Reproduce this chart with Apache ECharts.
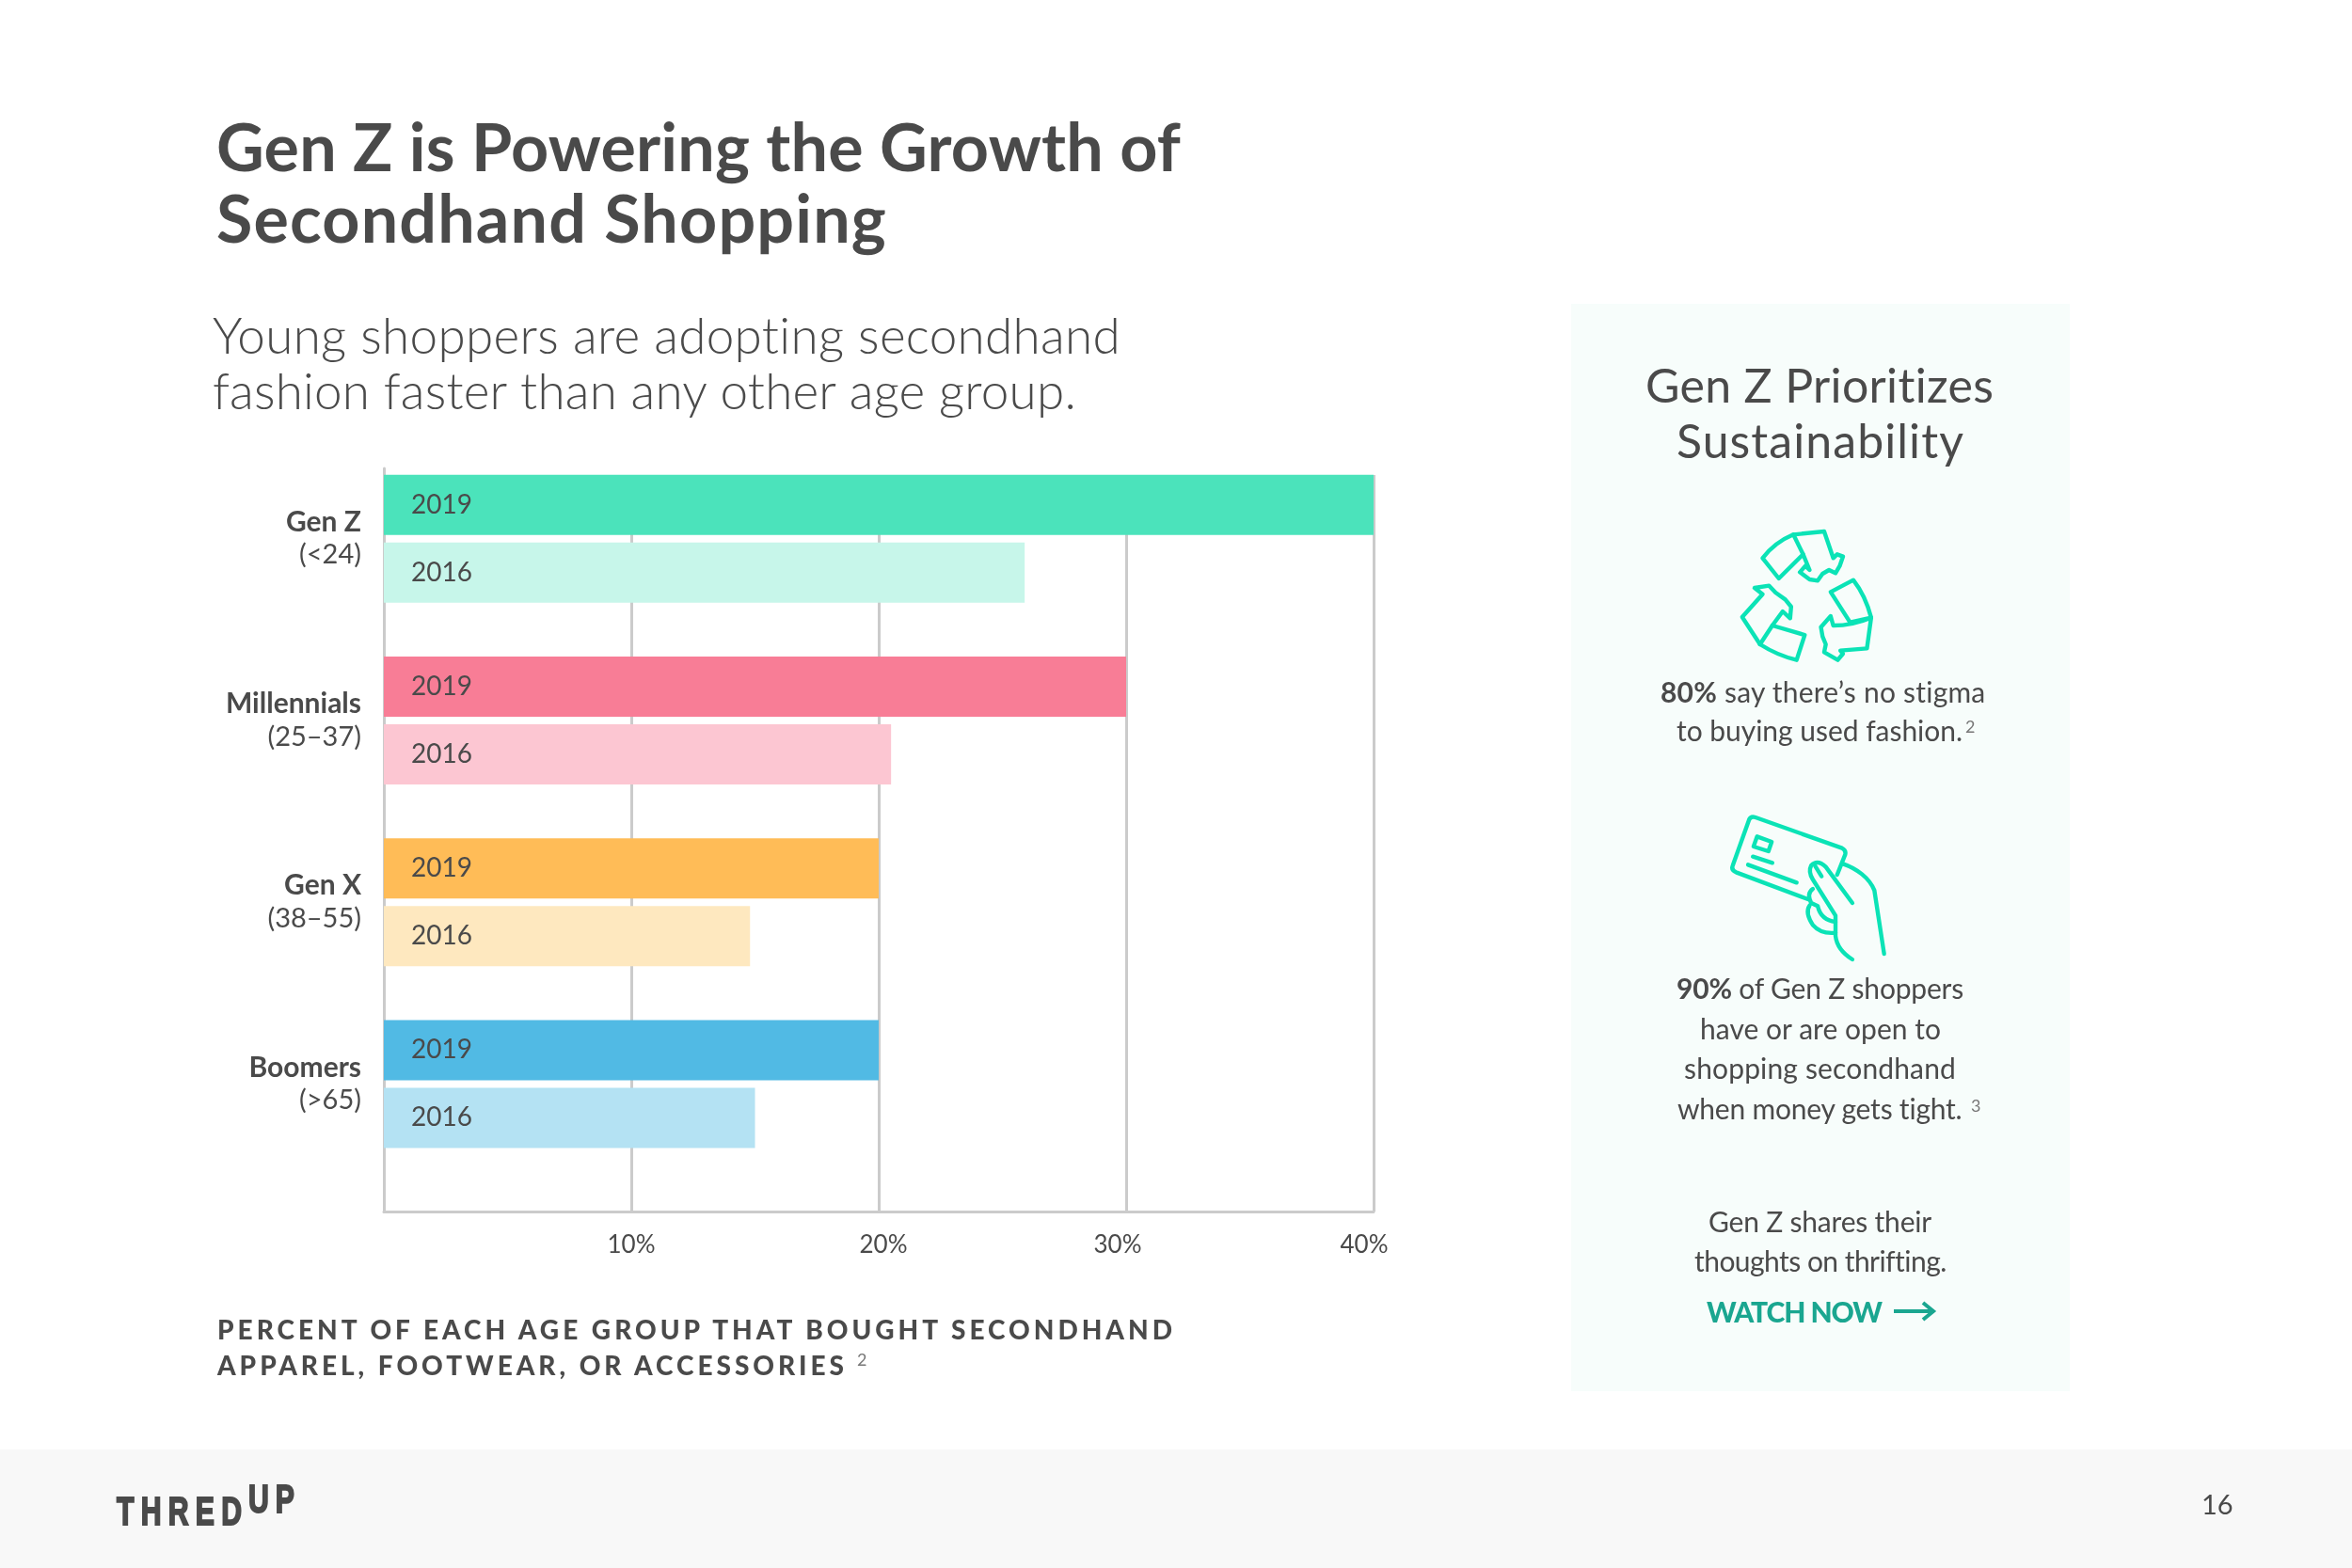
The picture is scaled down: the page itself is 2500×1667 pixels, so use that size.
<!DOCTYPE html>
<html><head><meta charset="utf-8">
<script src="https://cdn.jsdelivr.net/npm/echarts@6/dist/echarts.min.js"></script>
<style>
html,body{margin:0;padding:0;background:#fff;}
#page{position:relative;width:2500px;height:1667px;overflow:hidden;background:#fff;font-family:Lato,sans-serif;color:#4a4a4a;}
#panel{position:absolute;left:1670px;top:323px;width:530px;height:1156px;background:#f7fdfb;}
#footer{position:absolute;left:0;top:1541px;width:2500px;height:126px;background:#f8f8f8;}
#chart{position:absolute;left:0;top:0;width:2500px;height:1667px;}
.ln{position:absolute;white-space:nowrap;line-height:1;transform:translateY(-50%);}
b{font-weight:700;}
#icons{position:absolute;left:1660px;top:530px;width:540px;height:500px;}
#icons path{fill:none;stroke:#0be3b6;stroke-width:4.4;stroke-linejoin:round;stroke-linecap:round;vector-effect:non-scaling-stroke;}
#arrow{position:absolute;left:2010px;top:1380px;}
</style></head>
<body><div id="page">
<div id="panel"></div><div id="footer"></div>
<div id="chart"></div>
<svg id="icons" viewBox="0 0 1568 1500" preserveAspectRatio="none">
<path d="M620,190 C650,150 680,130 715,115 L745,178 L670,255 Z"/>
<path d="M715,115 L810,105 L838,190 L850,178 L868,185 L858,215 L845,238 L825,228 L805,240 L790,262 L765,258 L735,235 L752,215 L765,228 L745,178"/>
<path d="M830,298 L900,260 C930,300 945,340 955,380 L890,395 Z"/>
<path d="M955,380 L942,478 L860,485 L868,495 L852,515 L810,490 L815,465 L805,440 L800,410 L830,375 L838,405 C880,405 920,395 955,380"/>
<path d="M650,405 L750,435 L725,515 C685,505 650,490 612,465 Z"/>
<path d="M612,465 L557,378 L620,305 L595,285 L640,278 L660,300 L690,322 L708,345 L705,382 L682,360 L650,405"/>
<path d="M850,1200 L875,1135 Q878,1122 865,1115 L598,1017 Q583,1012 578,1025 L528,1170 Q522,1185 538,1192 L760,1278"/>
<path d="M603,1078 L648,1095 L638,1125 L592,1110 Z"/>
<path d="M590,1142 L650,1162 M575,1168 L725,1225"/>
<path d="M868,1165 C910,1180 950,1210 965,1250 L995,1452"/>
<path d="M897,1290 L815,1175 Q790,1150 770,1170 Q760,1190 775,1215 L845,1330 L845,1395 Q850,1440 897,1470"/>
<path d="M775,1245 Q755,1260 770,1290 L790,1300 M765,1298 Q750,1320 775,1360 Q800,1390 845,1385 M790,1300 Q800,1345 845,1350 M782,1172 L802,1205"/>
</svg>
<svg id="arrow" width="50" height="28" viewBox="0 0 50 28"><path d="M3,14 H44 M34,5 L45,14 L34,23" fill="none" stroke="#1aa690" stroke-width="4"/></svg>
</div>
<script>
// ---- chart data ----
const generations = ['Gen Z', 'Millennials', 'Gen X', 'Boomers'];
const ageRanges = ['(<24)', '(25–37)', '(38–55)', '(>65)'];
const values2019 = [40, 30, 20, 20];
const values2016 = [25.9, 20.5, 14.8, 15];
const colors2019 = ['#4be3bb', '#f87d96', '#ffbc57', '#51bae4'];
const colors2016 = ['#c7f6ea', '#fcc6d2', '#fee8bf', '#b4e2f3'];
const seriesYears = ['2019', '2016'];

// ---- page text ----
const lines = [
 // html, left, right, y centre, size, weight, [colour]
 ['Gen Z is Powering the Growth of', 230, 1255, 155, 70, 700],
 ['Secondhand Shopping', 230, 943, 231, 70, 700],
 ['Young shoppers are adopting secondhand', 226, 1192, 355, 53, 300],
 ['fashion faster than any other age group.', 226, 1144, 414, 53, 300],
 ['PERCENT OF EACH AGE GROUP THAT BOUGHT SECONDHAND', 231, 1250, 1413, 28, 900],
 ['APPAREL, FOOTWEAR, OR ACCESSORIES', 231, 901, 1451, 28, 900],
 ['Gen Z Prioritizes', 1749, 2120, 409, 50, 400],
 ['Sustainability', 1782, 2088, 468, 50, 400],
 ['<b>80%</b> say there’s no stigma', 1765, 2111, 735, 30, 400],
 ['to buying used fashion.', 1782, 2086, 776, 30, 400],
 ['<b>90%</b> of Gen Z shoppers', 1782, 2087, 1050, 30, 400],
 ['have or are open to', 1807, 2063, 1093, 30, 400],
 ['shopping secondhand', 1790, 2079, 1135, 30, 400],
 ['when money gets tight.', 1783, 2086, 1178, 30, 400],
 ['Gen Z shares their', 1816, 2053, 1298, 30, 400],
 ['thoughts on thrifting.', 1801, 2068, 1340, 30, 400],
 ['WATCH NOW', 1814, 2000, 1394, 30, 900, '#1aa690'],
 ['16', 2340, 2375, 1598, 29, 400],
 ['2', 2089, 2100, 772, 18, 400, '#777'],
 ['3', 2095, 2105, 1175, 18, 400, '#777'],
 ['2', 911, 922, 1445, 18, 400, '#777']
];
const page = document.getElementById('page');
lines.forEach(([html, x0, x1, yc, size, weight, col]) => {
  const d = document.createElement('div');
  d.className = 'ln';
  d.innerHTML = html;
  d.style.cssText = `left:${x0}px;top:${yc}px;font-size:${size}px;font-weight:${weight};` + (col ? `color:${col};` : '');
  page.appendChild(d);
  const n = d.textContent.length;
  if (n > 2) d.style.letterSpacing = ((x1 - x0 - d.getBoundingClientRect().width) / n) + 'px';
});
// logo
const logoSqueeze = 0.72;
[['THRED', 124, 257, 1607, 42], ['UP', 264, 313, 1594, 42]].forEach(([t, x0, x1, yc, size]) => {
  const d = document.createElement('div');
  d.className = 'ln';
  d.textContent = t;
  d.style.cssText = `left:${x0}px;top:${yc}px;font-size:${size}px;font-weight:700;font-family:"Liberation Sans",sans-serif;color:#4a4a4a;-webkit-text-stroke:2px #4a4a4a;transform-origin:0 50%;`;
  page.appendChild(d);
  d.style.letterSpacing = (((x1 - x0) / logoSqueeze - d.getBoundingClientRect().width) / (t.length - 1)) + 'px';
  d.style.transform = `translateY(-50%) scaleX(${logoSqueeze})`;
});

// ---- chart ----
const chart = echarts.init(document.getElementById('chart'), null, {renderer: 'canvas'});
const txt = '#4a4a4a';
const rule = {color: '#cbcbcb', width: 3};
const barLabel = {show: true, position: 'insideLeft', distance: 29, formatter: '{a}', color: txt,
                  fontFamily: 'Lato', fontSize: 28, fontWeight: 400};
chart.setOption({
  animation: false,
  backgroundColor: 'transparent',
  grid: [
    {left: 408, width: 1052, top: 505, height: 783},   // gridlines and bottom axis
    {left: 408, width: 1052, top: 476, height: 773},   // the four groups of bars
    {left: 408, width: 1052, top: 498, height: 790}    // left axis line
  ],
  xAxis: [
    {type: 'value', gridIndex: 0, min: 0, max: 40, interval: 10,
     axisLine: {show: true, lineStyle: rule},
     axisTick: {show: false},
     splitLine: {show: true, lineStyle: rule},
     axisLabel: {color: txt, fontFamily: 'Lato', fontSize: 26, margin: 23,
       formatter: v => v === 0 ? '' : (v === 20 ? '{k|' + v + '%}' : v === 30 ? '{l|' + v + '%}' : v === 40 ? '{m|' + v + '%}' : v + '%'),
       rich: {k: {color: txt, fontFamily: 'Lato', fontSize: 26, padding: [0, 0, 0, 10]},
              l: {color: txt, fontFamily: 'Lato', fontSize: 26, padding: [0, 18, 0, 0]},
              m: {color: txt, fontFamily: 'Lato', fontSize: 26, padding: [0, 20, 0, 0]}}}},
    {type: 'value', gridIndex: 1, min: 0, max: 40, show: false},
    {type: 'value', gridIndex: 2, min: 0, max: 40, show: false}
  ],
  yAxis: [
    {type: 'value', gridIndex: 0, min: 0, max: 1, show: false},
    {type: 'category', gridIndex: 1, inverse: true, data: generations,
     axisLine: {show: false}, axisTick: {show: false}, splitLine: {show: false},
     axisLabel: {margin: 24, align: 'right', lineHeight: 35,
       formatter: (v, i) => '{g|' + v + '}\n{r|' + ageRanges[i] + '}',
       rich: {g: {fontFamily: 'Lato', fontWeight: 700, fontSize: 30, color: txt, lineHeight: 35, align: 'right'},
              r: {fontFamily: 'Lato', fontWeight: 400, fontSize: 29, color: txt, lineHeight: 35, align: 'right'}}}},
    {type: 'value', gridIndex: 2, min: 0, max: 1,
     axisLine: {show: true, lineStyle: rule},
     axisTick: {show: false}, axisLabel: {show: false}, splitLine: {show: false}}
  ],
  series: [
    {name: seriesYears[0], type: 'bar', xAxisIndex: 1, yAxisIndex: 1, barWidth: 64, barGap: '12.5%', label: barLabel,
     data: values2019.map((v, i) => ({value: v, itemStyle: {color: colors2019[i]}}))},
    {name: seriesYears[1], type: 'bar', xAxisIndex: 1, yAxisIndex: 1, barWidth: 64, barGap: '12.5%', label: barLabel,
     data: values2016.map((v, i) => ({value: v, itemStyle: {color: colors2016[i]}}))}
  ]
});
</script>
</body></html>
